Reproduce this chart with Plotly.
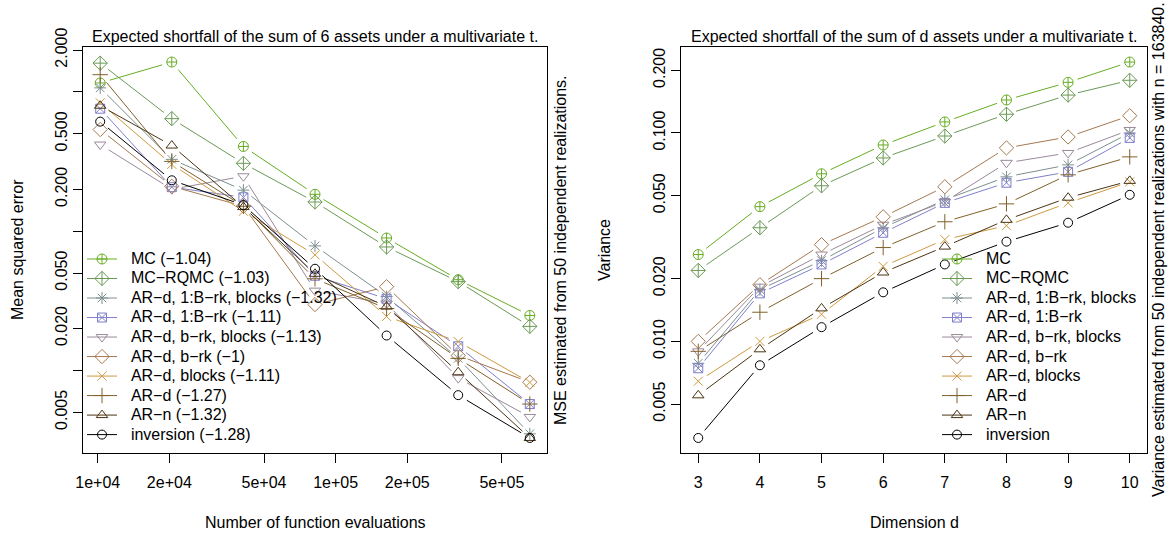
import numpy as np
import plotly.graph_objects as go

# ---------------------------------------------------------------- data
# number of function evaluations used in the convergence study
n_evals = [10240, 20480, 40960, 81920, 163840, 327680, 655360]
# dimensions used in the variance study
dims = [3, 4, 5, 6, 7, 8, 9, 10]

methods = ["MC", "MC−RQMC", "AR−d, 1:B−rk, blocks", "AR−d, 1:B−rk",
           "AR−d, b−rk, blocks", "AR−d, b−rk", "AR−d, blocks", "AR−d",
           "AR−n", "inversion"]
# fitted convergence slopes shown in the left legend
slopes = ["−1.04", "−1.03", "−1.32", "−1.11", "−1.13", "−1", "−1.11",
          "−1.27", "−1.32", "−1.28"]

# mean squared error, 6 assets, one list per method
mse_mc = [1.16, 1.64, 0.406, 0.184, 0.0893, 0.0448, 0.0248]
mse_mc_rqmc = [1.61, 0.643, 0.307, 0.162, 0.077, 0.0434, 0.0207]
mse_ard_1b_blocks = [1.07, 0.328, 0.197, 0.0784, 0.0339, 0.0122, 0.0035]
mse_ard_1b = [0.758, 0.207, 0.175, 0.0478, 0.0327, 0.0149, 0.00573]
mse_ard_brk_blocks = [0.419, 0.20, 0.248, 0.0374, 0.0302, 0.0088, 0.00463]
mse_ard_brk = [0.537, 0.21, 0.151, 0.0297, 0.0399, 0.0128, 0.00822]
mse_ard_blocks = [0.836, 0.302, 0.139, 0.0676, 0.0244, 0.0161, 0.0082]
mse_ard = [1.33, 0.317, 0.151, 0.0455, 0.0278, 0.0122, 0.00573]
mse_arn = [0.796, 0.412, 0.149, 0.0494, 0.0287, 0.0097, 0.00327]
mse_inversion = [0.612, 0.232, 0.154, 0.0537, 0.0178, 0.00664, 0.00327]

# variance at n = 163840 as a function of the dimension d
var_mc = [0.0261, 0.0443, 0.0637, 0.0876, 0.113, 0.144, 0.175, 0.219]
var_mc_rqmc = [0.0219, 0.0351, 0.0558, 0.0759, 0.0967, 0.123, 0.152, 0.179]
var_ard_1b_blocks = [0.00785, 0.0177, 0.0244, 0.0351, 0.0478, 0.0616, 0.0703, 0.100]
var_ard_1b = [0.00743, 0.0170, 0.0234, 0.0332, 0.0462, 0.0577, 0.0651, 0.0947]
var_ard_brk_blocks = [0.00896, 0.0183, 0.0261, 0.0363, 0.0468, 0.0719, 0.0802, 0.1034]
var_ard_brk = [0.0100, 0.0187, 0.0291, 0.0396, 0.0552, 0.0848, 0.0957, 0.121]
var_ard_blocks = [0.00644, 0.0100, 0.0135, 0.0229, 0.0308, 0.0359, 0.0462, 0.0583]
var_ard = [0.00896, 0.0138, 0.0200, 0.0282, 0.0375, 0.0457, 0.0630, 0.0768]
var_arn = [0.00551, 0.00916, 0.0144, 0.0214, 0.0285, 0.0383, 0.0489, 0.0589]
var_inversion = [0.00344, 0.00768, 0.0117, 0.0172, 0.0234, 0.0301, 0.0371, 0.0505]

mse_series = [mse_mc, mse_mc_rqmc, mse_ard_1b_blocks, mse_ard_1b,
              mse_ard_brk_blocks, mse_ard_brk, mse_ard_blocks, mse_ard,
              mse_arn, mse_inversion]
var_series = [var_mc, var_mc_rqmc, var_ard_1b_blocks, var_ard_1b,
              var_ard_brk_blocks, var_ard_brk, var_ard_blocks, var_ard,
              var_arn, var_inversion]

# tick labels
n_ticks = [1e4, 2e4, 5e4, 1e5, 2e5, 5e5]
n_tick_text = ["1e+04", "2e+04", "5e+04", "1e+05", "2e+05", "5e+05"]
mse_ticks = [0.005, 0.01, 0.02, 0.05, 0.1, 0.2, 0.5, 1, 2]
mse_tick_text = ["0.005", "", "0.020", "0.050", "", "0.200", "0.500", "", "2.000"]
var_ticks = [0.005, 0.01, 0.02, 0.05, 0.1, 0.2]
var_tick_text = ["0.005", "0.010", "0.020", "0.050", "0.100", "0.200"]

# ---------------------------------------------------------------- style
colors = ["#66ad22", "#6b9a55", "#7d8f8f", "#7f7fcc", "#9a8a9a",
          "#a57850", "#cd9a40", "#80602a", "#4a3414", "#000000"]
symbols = ["circle-cross-open", "diamond-cross-open", "asterisk-open",
           "square-x-open", "triangle-down-open", "diamond-open",
           "x-thin-open", "cross-thin-open", "triangle-up-open", "circle-open"]
sizes = [10, 11, 10, 9, 10, 11, 9, 11, 10, 9]

FONT = "Liberation Sans, Arial, Helvetica, sans-serif"
W, H = 1169, 537
GAP = 10  # px left open between a point and its connecting segments

left_x = (83, 547)
right_x = (681, 1147)
top_y, bot_y = 47, 453


def fx(p):
    return p / W


def fy(p):
    return 1 - p / H


def log_range(values, ext=0.04):
    lo = np.log10(np.min(values))
    hi = np.log10(np.max(values))
    d = (hi - lo) * ext
    return [lo - d, hi + d]


def lin_range(values, ext=0.04):
    lo, hi = float(np.min(values)), float(np.max(values))
    d = (hi - lo) * ext
    return [lo - d, hi + d]


def label(text):
    # larger rendered text, compact legend rows
    return '<span style="font-size:16px">\u00a0\u00a0' + text + '</span>'


def gapped(xs, ys, xlog, xr, yr, wpx, hpx):
    """Points plus shortened connecting segments (points-and-lines style)."""
    u = np.log10(xs) if xlog else np.asarray(xs, float)
    v = np.log10(ys)
    sx = wpx / (xr[1] - xr[0])
    sy = hpx / (yr[1] - yr[0])
    px, py, pts = [], [], []
    for k in range(len(u)):
        pts.append(len(px))
        px += [u[k], None]
        py += [v[k], None]
        if k + 1 < len(u):
            du, dv = u[k + 1] - u[k], v[k + 1] - v[k]
            L = np.hypot(du * sx, dv * sy)
            if L > 2 * GAP:
                f = GAP / L
                px += [u[k] + du * f, u[k + 1] - du * f, None]
                py += [v[k] + dv * f, v[k + 1] - dv * f, None]
    tx = [None if a is None else (10 ** a if xlog else a) for a in px]
    ty = [None if b is None else 10 ** b for b in py]
    return tx, ty, pts


x1r = log_range(n_evals)
y1r = log_range(np.concatenate(mse_series))
x2r = lin_range(dims)
y2r = log_range(np.concatenate(var_series))
plot_h = bot_y - top_y

fig = go.Figure()

panels = [
    (n_evals, mse_series, True, x1r, y1r, left_x, "x", "y", "legend", True),
    (dims, var_series, False, x2r, y2r, right_x, "x2", "y2", "legend2", False),
]
for xs, series, xlog, xr, yr, xdom, xa, ya, lg, with_slope in panels:
    for i, name in enumerate(methods):
        tx, ty, pts = gapped(xs, series[i], xlog, xr, yr,
                             xdom[1] - xdom[0], plot_h)
        text = f"{name} ({slopes[i]})" if with_slope else name
        fig.add_trace(go.Scatter(
            x=tx, y=ty, mode="lines+markers", name=label(text),
            line=dict(color=colors[i], width=1),
            marker=dict(symbol=symbols[i], size=sizes[i], color=colors[i],
                        line=dict(width=1, color=colors[i])),
            selectedpoints=pts,
            selected=dict(marker=dict(opacity=1)),
            unselected=dict(marker=dict(opacity=0)),
            connectgaps=False, hoverinfo="skip",
            xaxis=xa, yaxis=ya, legend=lg))

axis_common = dict(showline=True, mirror=True, linecolor="black", linewidth=1,
                   ticks="outside", ticklen=9, tickcolor="black", tickwidth=1,
                   showgrid=False, zeroline=False, automargin=False,
                   tickfont=dict(family=FONT, size=16, color="black"))

legend_common = dict(xanchor="left", yanchor="top", bgcolor="rgba(0,0,0,0)",
                     borderwidth=0, itemwidth=30, tracegroupgap=0,
                     font=dict(family=FONT, size=12.7, color="black"))

fig.update_layout(
    width=W, height=H,
    margin=dict(l=0, r=0, t=0, b=0, autoexpand=False),
    paper_bgcolor="white", plot_bgcolor="white",
    font=dict(family=FONT, size=16, color="black"),
    dragmode=False,
    xaxis=dict(domain=[fx(left_x[0]), fx(left_x[1])], type="log",
               range=x1r, tickvals=n_ticks, ticktext=n_tick_text,
               anchor="y", ticklabelstandoff=6, **axis_common),
    yaxis=dict(domain=[fy(bot_y), fy(top_y)], type="log", range=y1r,
               tickvals=mse_ticks, ticktext=mse_tick_text, tickangle=-90,
               anchor="x", ticklabelstandoff=0, **axis_common),
    xaxis2=dict(domain=[fx(right_x[0]), fx(right_x[1])], range=x2r,
                tickvals=dims, ticktext=[str(d) for d in dims],
                anchor="y2", ticklabelstandoff=6, **axis_common),
    yaxis2=dict(domain=[fy(bot_y), fy(top_y)], type="log", range=y2r,
                tickvals=var_ticks, ticktext=var_tick_text, tickangle=-90,
                anchor="x2", ticklabelstandoff=0, **axis_common),
    legend=dict(x=fx(82), y=fy(244.25), **legend_common),
    legend2=dict(x=fx(937), y=fy(244.25), **legend_common),
    showlegend=True,
)

left_c = (left_x[0] + left_x[1]) / 2
right_c = (right_x[0] + right_x[1]) / 2
mid_y = (top_y + bot_y) / 2

texts = [
    ("Expected shortfall of the sum of 6 assets under a multivariate t.", left_c, 37, 0),
    ("Expected shortfall of the sum of d assets under a multivariate t.", right_c, 37, 0),
    ("Number of function evaluations", left_c, 522, 0),
    ("Dimension d", right_c, 522, 0),
    ("Mean squared error", 17, mid_y, -90),
    ("Variance", 604, mid_y, -90),
    ("MSE estimated from 50 independent realizations.", 560, mid_y, -90),
    ("Variance estimated from 50 independent realizations with n = 163840.", 1158, mid_y, -90),
]
for t, x, y, ang in texts:
    fig.add_annotation(text=t, x=fx(x), y=fy(y), xref="paper", yref="paper",
                       xanchor="center", yanchor="middle", showarrow=False,
                       textangle=ang, font=dict(family=FONT, size=16, color="black"))

fig.write_html("out.html")
